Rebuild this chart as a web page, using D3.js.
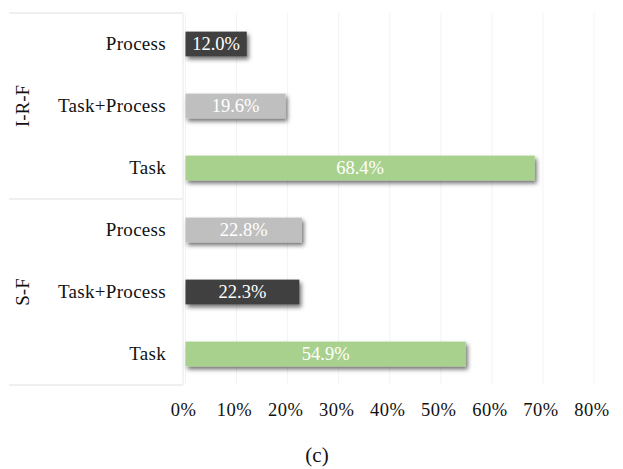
<!DOCTYPE html>
<html><head><meta charset="utf-8">
<script src="https://cdn.jsdelivr.net/npm/d3@7"></script>
<style>body{margin:0;background:#fff}svg{display:block}text{font-family:"Liberation Serif","Times New Roman",serif}</style>
</head><body><svg id="c" width="623" height="469"></svg>
<script>
const groups = ["I-R-F", "S-F"];
const categories = ["Process", "Task+Process", "Task"];
const valuesIRF = [12.0, 19.6, 68.4];
const valuesSF = [22.8, 22.3, 54.9];
const colorsIRF = ["#404040", "#bfbfbf", "#a9d18e"];
const colorsSF = ["#bfbfbf", "#404040", "#a9d18e"];
const xTicks = [0, 10, 20, 30, 40, 50, 60, 70, 80];
const caption = "(c)";

(function () {
const rows = [];
[[valuesIRF, colorsIRF], [valuesSF, colorsSF]].forEach(([vals, cols], gi) => {
  categories.forEach((c, i) => rows.push({group: groups[gi], cat: c, key: groups[gi] + "|" + c, v: vals[i], col: cols[i]}));
});

const svg = d3.select("#c");
const x = d3.scaleLinear().domain([0, 80]).range([185.5, 594]);
const y = d3.scaleBand().domain(rows.map(d => d.key)).range([13, 385]).paddingInner(0.6).paddingOuter(0.3);

const defs = svg.append("defs");
const f = defs.append("filter").attr("id", "sh").attr("x", "-10%").attr("y", "-30%").attr("width", "130%").attr("height", "190%");
f.append("feDropShadow").attr("dx", 2).attr("dy", 3).attr("stdDeviation", 2).attr("flood-color", "#000").attr("flood-opacity", 0.55);

// gridlines
svg.append("g").selectAll("line").data(xTicks).join("line")
  .attr("x1", d => x(d)).attr("x2", d => x(d)).attr("y1", 13).attr("y2", 385)
  .attr("stroke", "#f3f3f3").attr("stroke-width", 1);

// label panel borders
const yTop = y.range()[0], yBot = y.range()[1];
const yMid = (yTop + yBot) / 2;
const panel = svg.append("g").attr("stroke", "#efefef").attr("stroke-width", 2);
[yTop, yMid, yBot].forEach(yy => panel.append("line").attr("x1", 9).attr("x2", 183).attr("y1", yy).attr("y2", yy));
panel.append("line").attr("x1", 183).attr("x2", 183).attr("y1", yTop).attr("y2", yBot).attr("stroke-width", 1.5);

// bars
svg.append("g").selectAll("rect").data(rows).join("rect")
  .attr("x", x(0)).attr("y", d => y(d.key)).attr("width", d => x(d.v) - x(0)).attr("height", y.bandwidth())
  .attr("fill", d => d.col).attr("filter", "url(#sh)");

// value labels
svg.append("g").selectAll("text").data(rows).join("text")
  .attr("x", d => (x(0) + x(d.v)) / 2).attr("y", d => y(d.key) + y.bandwidth() / 2)
  .attr("dy", "0.34em").attr("text-anchor", "middle").attr("fill", "#fff").attr("font-size", 18.5)
  .text(d => d.v.toFixed(1) + "%");

// category labels
svg.append("g").selectAll("text").data(rows).join("text")
  .attr("x", 166).attr("y", d => y(d.key) + y.bandwidth() / 2).attr("dy", "0.34em")
  .attr("text-anchor", "end").attr("fill", "#111").attr("font-size", 19).attr("letter-spacing", 0.3).text(d => d.cat);

// group labels
groups.forEach((g) => {
  const ks = rows.filter(r => r.group === g).map(r => r.key);
  const cy = (y(ks[0]) + y(ks[ks.length - 1]) + y.bandwidth()) / 2;
  svg.append("text").attr("transform", `translate(23,${cy}) rotate(-90)`).attr("dy", "0.34em")
    .attr("text-anchor", "middle").attr("fill", "#111").attr("font-size", 19).text(g);
});

// x axis labels
svg.append("g").selectAll("text").data(xTicks).join("text")
  .attr("x", d => x(d) - 2).attr("y", 416).attr("text-anchor", "middle")
  .attr("fill", "#111").attr("font-size", 18.5).attr("letter-spacing", 0.5).text(d => d + "%");

svg.append("text").attr("x", 317).attr("y", 462).attr("text-anchor", "middle")
  .attr("fill", "#111").attr("font-size", 21).text(caption);
})();
</script></body></html>
